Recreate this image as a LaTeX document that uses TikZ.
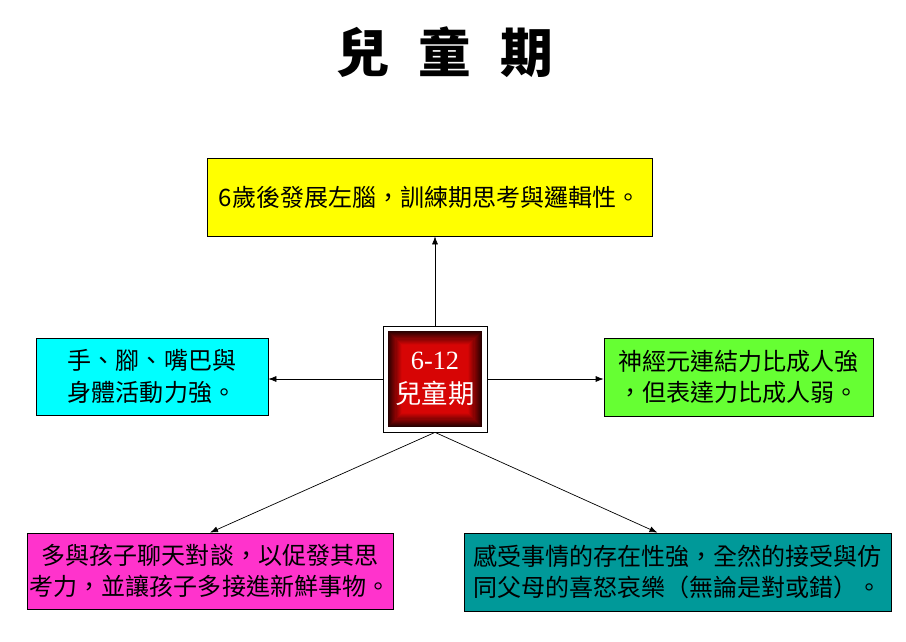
\documentclass[tikz,border=0pt]{standalone}
\usepackage{fontspec}
\usepackage{xcolor}
\usetikzlibrary{arrows.meta, positioning}
\newfontfamily\cjk{Noto Sans CJK TC}
\newfontfamily\numfont{Liberation Serif}
\definecolor{boxyellow}{RGB}{255,255,0}
\definecolor{boxcyan}{RGB}{0,255,255}
\definecolor{boxgreen}{RGB}{102,255,51}
\definecolor{boxpink}{RGB}{255,51,204}
\definecolor{boxteal}{RGB}{0,153,153}
\definecolor{deepred}{RGB}{40,0,0}
\definecolor{brightred}{RGB}{215,5,5}

\begin{document}
\begin{tikzpicture}[x=0.3mm, y=-0.3mm, >={Latex[length=2.4mm, width=1.8mm]}]

        % Définition des styles
        \tikzset{
            infobox/.style={draw=black, line width=0.6pt, inner sep=0pt, align=center, font=\cjk\fontsize{20.5}{27}\selectfont},
            link/.style={->, line width=0.6pt, black},
            redglow/.style={fill=deepred, path picture={
                \foreach \i [evaluate=\i as \p using {int(min(100,\i*8))}] in {1,...,18}
                    \fill[brightred!\p!deepred]
                        ([xshift=\i*0.32mm, yshift=\i*0.32mm]path picture bounding box.south west)
                        rectangle ([xshift=-\i*0.32mm, yshift=-\i*0.32mm]path picture bounding box.north east);
            }}
        }

        \useasboundingbox (0,0) rectangle (906,641);

        % --- TITRE ---
        \node[font=\cjk\bfseries\fontsize{45}{50}\selectfont] (title) at (445,52) {兒\hspace{0.55em}童\hspace{0.55em}期};

        % --- CENTRE ---
        \node[draw=black, line width=0.6pt, fill=white, minimum width=31.2mm, minimum height=31.8mm] (ctr) at (435,379) {};
        \node[inner sep=0pt, minimum width=28.2mm, minimum height=28.8mm, redglow,
              text=white, align=center, font=\fontsize{22.5}{29}\selectfont] (core) at (435,379)
              {{\numfont 6-12}\\{\cjk 兒童期}};

        % --- BOÎTES ---
        \node[infobox, fill=boxyellow, minimum width=133.5mm, minimum height=23.4mm] (brain) at (429.5,197)
              {6歲後發展左腦，訓練期思考與邏輯性。};
        \node[infobox, fill=boxcyan, minimum width=69.6mm, minimum height=23.1mm] (body) at (152,376.5)
              {手、腳、嘴巴與\\身體活動力強。};
        \node[infobox, fill=boxgreen, minimum width=80.7mm, minimum height=23.4mm] (neuron) at (738.5,377)
              {神經元連結力比成人強\\，但表達力比成人弱。};
        \node[infobox, fill=boxpink, minimum width=109.8mm, minimum height=22.8mm, align=left] (talk) at (210,571)
              {\hspace{0.5em}多與孩子聊天對談，以促發其思\\考力，並讓孩子多接進新鮮事物。};
        \node[infobox, fill=boxteal, minimum width=128.1mm, minimum height=23.4mm, align=left] (feel) at (677.5,572)
              {感受事情的存在性強，全然的接受與仿\\同父母的喜怒哀樂（無論是對或錯）。};

        % --- FLÈCHES ---
        \draw[link] (ctr.north) -- (ctr.north |- brain.south);
        \draw[link] (ctr.west) -- (ctr.west -| body.east);
        \draw[link] (ctr.east) -- (ctr.east -| neuron.west);
        \draw[link] (ctr.south) -- (talk.north);
        \draw[link] (ctr.south) -- (feel.117);

    \end{tikzpicture}
\end{document}
